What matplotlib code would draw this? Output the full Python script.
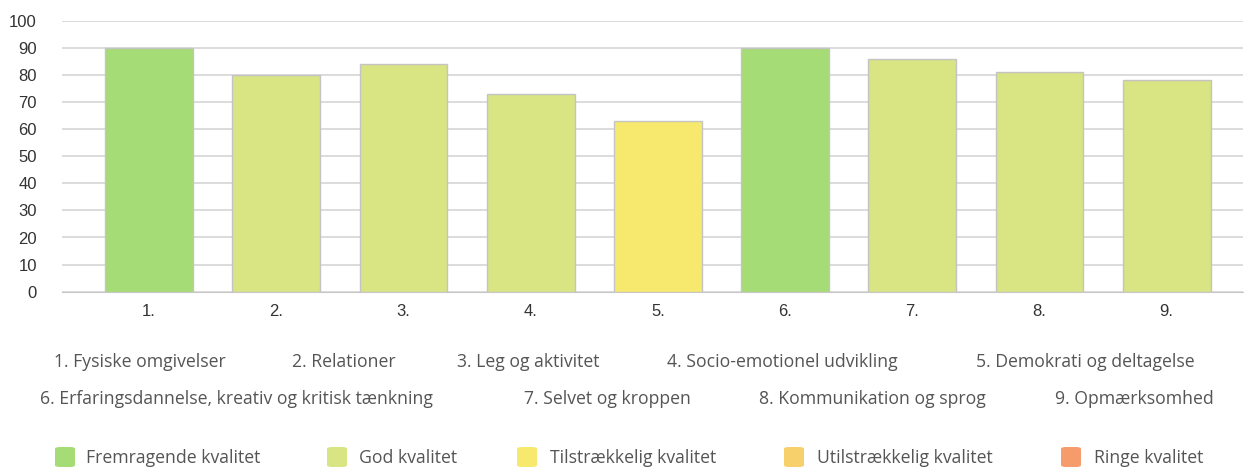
import matplotlib
matplotlib.use("Agg")
import matplotlib.pyplot as plt
from matplotlib.patches import FancyBboxPatch

# ─── Data ─────────────────────────────────────────────────────────────────────
categories = ["1.", "2.", "3.", "4.", "5.", "6.", "7.", "8.", "9."]
scores = [90, 80, 84, 73, 63, 90, 86, 81, 78]
quality = ["Fremragende", "God", "God", "God", "Tilstrækkelig",
           "Fremragende", "God", "God", "God"]

area_names = ["1. Fysiske omgivelser", "2. Relationer", "3. Leg og aktivitet",
              "4. Socio-emotionel udvikling", "5. Demokrati og deltagelse",
              "6. Erfaringsdannelse, kreativ og kritisk tænkning",
              "7. Selvet og kroppen", "8. Kommunikation og sprog",
              "9. Opmærksomhed"]

legend_labels = ["Fremragende kvalitet", "God kvalitet", "Tilstrækkelig kvalitet",
                 "Utilstrækkelig kvalitet", "Ringe kvalitet"]
quality_colors = {
    "Fremragende": "#a6dc76",
    "God": "#d9e483",
    "Tilstrækkelig": "#f7e96e",
    "Utilstrækkelig": "#f8d06b",
    "Ringe": "#f69c6c",
}

W, H = 1244, 469
fig = plt.figure(figsize=(W / 100, H / 100), dpi=100)
ax = fig.add_axes([62 / W, 1 - 291.7 / H, (1243 - 62) / W, (291.7 - 20.7) / H])

x = range(len(categories))
ax.bar(x, scores, width=0.69, color=[quality_colors[q] for q in quality],
       edgecolor="#c4c4c4", linewidth=1, zorder=3)

ax.set_ylim(0, 100)
ax.set_xlim(-0.684, 8.6)
ax.set_yticks(range(0, 101, 10))
ax.set_xticks(list(x))
ax.set_xticklabels(categories)
ax.yaxis.grid(True, color="#d6d6d6", linewidth=1.2, zorder=0)
for s in ["top", "right", "left"]:
    ax.spines[s].set_visible(False)
ax.spines["bottom"].set_color("#c8c8c8")
ax.tick_params(axis="both", length=0, labelsize=12, labelcolor="#333333")
ax.tick_params(axis="y", pad=18)
ax.tick_params(axis="x", pad=9)
for lab in ax.get_xticklabels() + ax.get_yticklabels():
    lab.set_fontfamily("Liberation Sans")

# ─── Area name legend (two rows) ─────────────────────────────────────────────
row1_x = [54, 292, 457, 667, 976]
row2_x = [40, 524, 759, 1055]
txt_kw = dict(fontsize=12.7, color="#555555", family="Open Sans", va="center")
for name, px in zip(area_names[:5], row1_x):
    fig.text(px / W, 1 - 362 / H, name, **txt_kw)
for name, px in zip(area_names[5:], row2_x):
    fig.text(px / W, 1 - 399 / H, name, **txt_kw)

# ─── Quality legend ──────────────────────────────────────────────────────────
sq_x = [55, 327, 517, 784, 1061]
lab_x = [86, 359, 550, 817, 1094]
for lab, key, sx, tx in zip(legend_labels, quality_colors, sq_x, lab_x):
    fig.patches.append(FancyBboxPatch(
        (sx / W, 1 - 467 / H), 20 / W, 20 / H,
        boxstyle="round,pad=0,rounding_size=0.004",
        transform=fig.transFigure, facecolor=quality_colors[key],
        edgecolor="none", figure=fig))
    fig.text(tx / W, 1 - 458 / H, lab, **txt_kw)

fig.savefig("out.png", dpi=100)
